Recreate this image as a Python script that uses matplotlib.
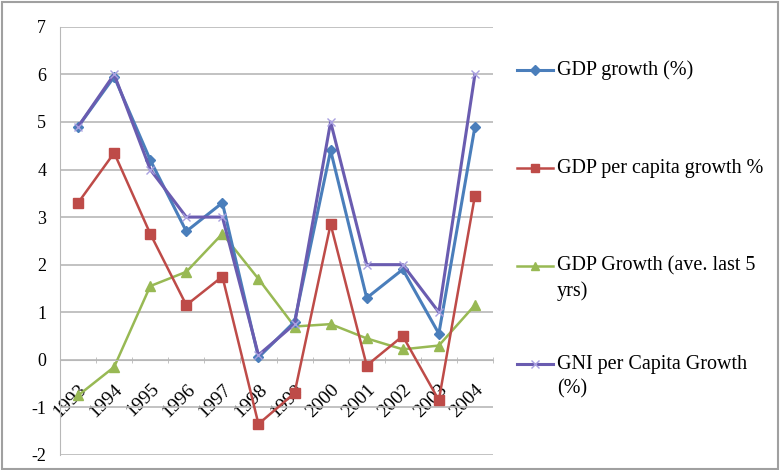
import numpy as np
import matplotlib
matplotlib.use("Agg")
import matplotlib.pyplot as plt
from matplotlib.patches import Rectangle
from matplotlib.lines import Line2D

plt.rcParams['font.family'] = ['Liberation Serif', 'DejaVu Serif']
plt.rcParams['axes.unicode_minus'] = False

# data
years = ['1993', '1994', '1995', '1996', '1997', '1998',
         '1999', '2000', '2001', '2002', '2003', '2004']
gdp_growth = [4.9, 5.95, 4.2, 2.7, 3.3, 0.05, 0.8, 4.4, 1.3, 1.9, 0.55, 4.9]
gdp_pc_growth = [3.3, 4.35, 2.65, 1.15, 1.75, -1.35, -0.7, 2.85, -0.12, 0.5, -0.85, 3.45]
gdp_avg5 = [-0.75, -0.15, 1.55, 1.85, 2.65, 1.7, 0.7, 0.75, 0.45, 0.22, 0.3, 1.15]
gni_pc_growth = [4.9, 6.0, 4.0, 3.0, 3.0, 0.1, 0.75, 5.0, 2.0, 2.0, 1.0, 6.0]

labels = ['GDP growth (%)', 'GDP per capita growth %',
          'GDP Growth (ave. last 5\nyrs)', 'GNI per Capita Growth\n(%)']

W, H = 780, 470
fig = plt.figure(figsize=(W / 100, H / 100), dpi=100)
ax = fig.add_axes([0.077, 0.032, 0.555, 0.911])

x = np.arange(len(years))
lines = []
lines += ax.plot(x, gdp_growth, color='#4A7EBB', lw=2.2, marker='D', ms=5.5, zorder=4)
lines += ax.plot(x, gdp_pc_growth, color='#BE4B48', lw=1.8, marker='s', ms=7.5, zorder=3)
lines += ax.plot(x, gdp_avg5, color='#98B954', lw=1.8, marker='^', ms=7, zorder=2)
lines += ax.plot(x, gni_pc_growth, color='#6A5CB0', lw=2.2, marker='x', ms=6, mew=1,
                 markeredgecolor='#A9A0E0', zorder=5)

ax.set_xlim(-0.5, len(years) - 0.5)
ax.set_ylim(-2, 7)
ax.set_yticks(range(-2, 8))
ax.yaxis.grid(True, color='#B8B8B8', lw=1.2)
ax.set_axisbelow(True)

for s in ['top', 'right']:
    ax.spines[s].set_visible(False)
ax.spines['left'].set_color('#B8B8B8')
ax.spines['bottom'].set_position(('data', 0))
ax.spines['bottom'].set_color('#B8B8B8')

ax.set_xticks(x)
ax.set_xticklabels(years, rotation=45, ha='right', va='top', rotation_mode='anchor')
ax.set_xticks(np.arange(-0.5, len(years)), minor=True)
ax.tick_params(axis='x', which='major', length=0, labelsize=14, pad=15)
ax.tick_params(axis='x', which='minor', length=4, direction='inout', color='#B8B8B8')
ax.tick_params(axis='y', length=0, labelsize=13, pad=10)

# legend entries, evenly spaced like the Excel legend
for i, (ln, lab) in enumerate(zip(lines, labels)):
    yc = 1 - (70 + 98 * i) / H
    fig.add_artist(Line2D([517 / W, 553 / W], [yc, yc], color=ln.get_color(),
                          lw=ln.get_linewidth(), transform=fig.transFigure))
    fig.add_artist(Line2D([535 / W], [yc], marker=ln.get_marker(),
                          ms=ln.get_markersize() * 0.85, color=ln.get_color(),
                          mec=ln.get_markeredgecolor(), mew=ln.get_markeredgewidth(),
                          transform=fig.transFigure))
    fig.text(557 / W, yc, lab.split('\n')[0], fontsize=14.5, va='center', ha='left')
    if '\n' in lab:
        fig.text(557 / W, yc - 25 / H, lab.split('\n')[1], fontsize=14.5,
                 va='center', ha='left')

fig.patches.append(Rectangle((0.002, 0.002), 0.996, 0.994, transform=fig.transFigure,
                             fill=False, edgecolor='#A0A0A0', lw=1.5))

fig.savefig('out.png', dpi=100)
